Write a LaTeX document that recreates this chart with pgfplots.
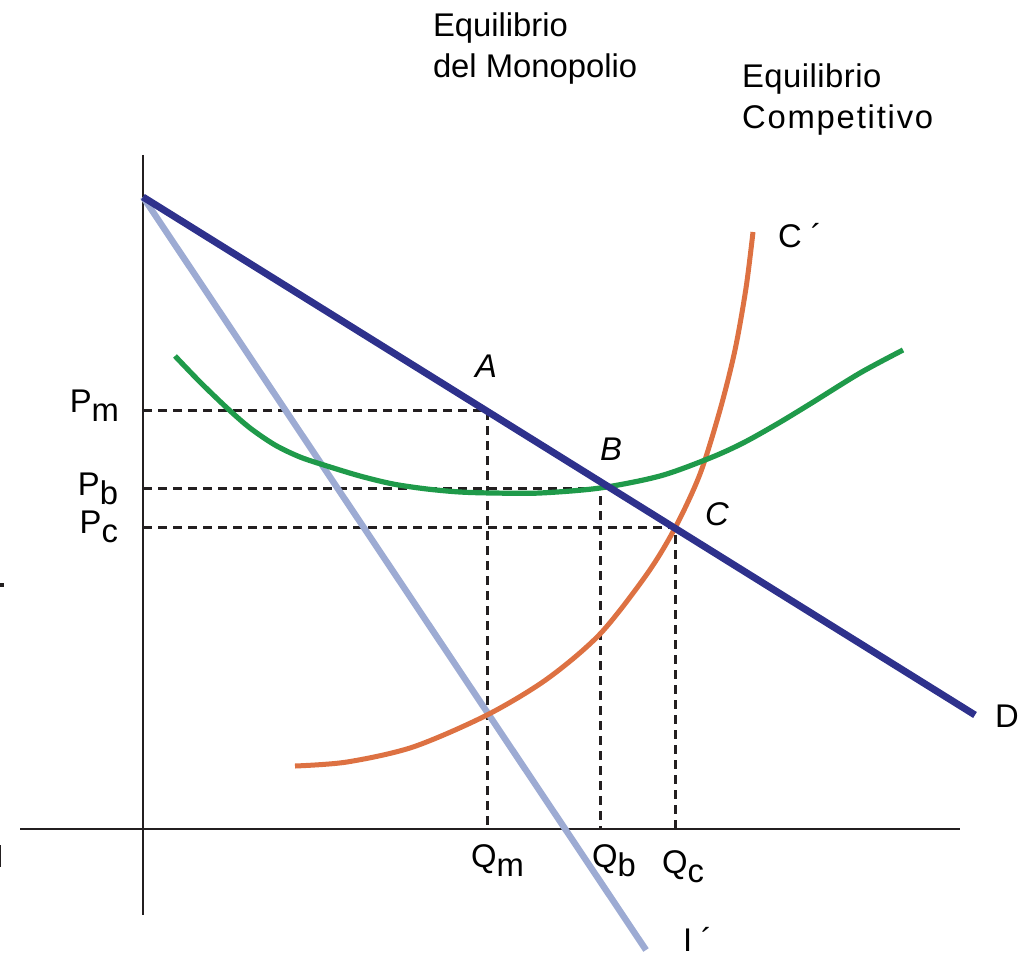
\documentclass[border=0pt]{standalone}
\usepackage{pgfplots}
\pgfplotsset{compat=1.18}
\usepackage{fontspec}
\setmainfont{Liberation Sans}

\definecolor{demanda}{RGB}{46,49,140}
\definecolor{ingmarg}{RGB}{157,171,211}
\definecolor{costmed}{RGB}{31,154,74}
\definecolor{costmarg}{RGB}{221,113,66}
\definecolor{ejes}{RGB}{35,31,32}

\newcommand{\lbl}{\fontsize{16.4}{19}\selectfont}
\newcommand{\sub}[1]{\raisebox{-4.5pt}{#1}}

\begin{document}
\begin{tikzpicture}[
  lab/.style={font=\lbl, inner sep=0pt, outer sep=0pt},
  labi/.style={font=\lbl\itshape, inner sep=0pt, outer sep=0pt},
]
\begin{axis}[
  hide axis, scale only axis,
  width=515.5pt, height=478.5pt,
  xmin=0, xmax=1031, ymin=0, ymax=957,
  y dir=reverse, clip=false,
]
\coordinate (bl) at (axis cs:0,957);
\coordinate (tr) at (axis cs:1031,0);

% guide lines for prices and quantities
\pgfplotsset{guia/.style={no marks, ejes, line width=1.5pt, dash pattern=on 4.3pt off 3.2pt}}
\addplot[guia] coordinates {(143,410) (487,410) (487,829)};
\addplot[guia] coordinates {(143,488) (600,488) (600,829)};
\addplot[guia] coordinates {(143,527) (675,527) (675,829)};

% axes
\addplot[no marks, ejes, line width=1.3pt] coordinates {(143,155) (143,915)};
\addplot[no marks, ejes, line width=1.3pt] coordinates {(20,829) (960,829)};

% marginal income I'
\addplot[no marks, ingmarg, line width=3.2pt] coordinates {(143,197) (646,950)};

% marginal cost C'
\addplot[no marks, costmarg, line width=2.5pt, smooth] coordinates {
  (295,766) (347,762) (413,747) (487,715) (547,679) (600,634)
  (647,574) (675,528) (700,474) (720,410) (735,350) (746,288) (753,232)};

% average cost
\addplot[no marks, costmed, line width=2.6pt, smooth] coordinates {
  (175,356) (200,382) (227,408) (250,428) (275,445) (300,457) (327,466)
  (360,476) (393,484) (427,489) (460,492) (493,493) (540,493)
  (600,488) (660,476) (710,458) (743,443) (777,424) (810,404) (860,373)
  (903,350)};

% demand D
\addplot[no marks, demanda, line width=3.5pt] coordinates {(143,197) (975,715)};

% labels
\node[lab, anchor=base west] at (axis cs:433,37) {Equilibrio};
\node[lab, anchor=base west] at (axis cs:433,78) {del Monopolio};
\node[lab, anchor=base west] at (axis cs:742,88) {\addfontfeature{LetterSpace=1.5}Equilibrio};
\node[lab, anchor=base west] at (axis cs:742,129) {\addfontfeature{LetterSpace=5.5}Competitivo};

\node[labi, anchor=base west] at (axis cs:475,377) {A};
\node[labi, anchor=base west] at (axis cs:600,460) {B};
\node[labi, anchor=base west] at (axis cs:705,525) {C};

\node[lab, anchor=base west] at (axis cs:778,247) {C ´};
\node[lab, anchor=base west] at (axis cs:995,727) {D};
\node[lab, anchor=base west] at (axis cs:683,951) {I ´};

\node[lab, anchor=base east] at (axis cs:119,412) {P\sub{m}};
\node[lab, anchor=base east] at (axis cs:118,495) {P\sub{b}};
\node[lab, anchor=base east] at (axis cs:118,533) {P\sub{c}};

\node[lab, anchor=base west] at (axis cs:471,867) {Q\sub{m}};
\node[lab, anchor=base west] at (axis cs:592,867) {Q\sub{b}};
\node[lab, anchor=base west] at (axis cs:662,873) {Q\sub{c}};

% fragments at the left border
\fill[ejes] (axis cs:0,583) rectangle (axis cs:4,587);
\fill[ejes] (axis cs:0,845) rectangle (axis cs:1.5,867);
\end{axis}
\pgfresetboundingbox
\path (bl) rectangle (tr);
\end{tikzpicture}
\end{document}
